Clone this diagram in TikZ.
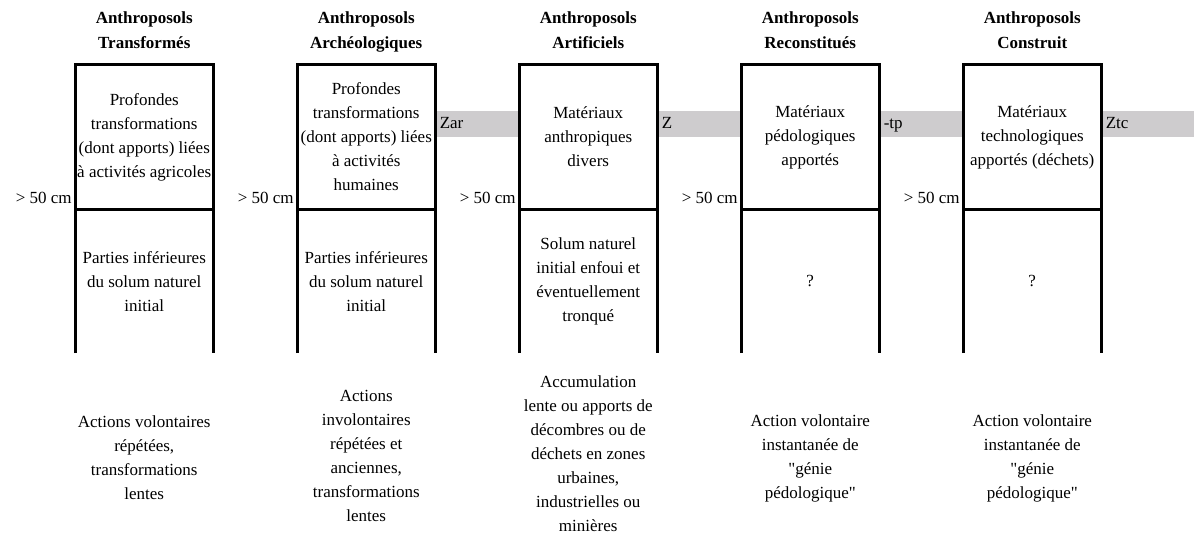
\documentclass[tikz,border=0pt]{standalone}
\usepackage{fontspec}
\setmainfont{Liberation Serif}
\usepackage{xcolor}
\usepackage{tikz}
\usetikzlibrary{positioning}
\definecolor{bandgray}{RGB}{206,204,206}

\begin{document}
\begin{tikzpicture}[x=0.5pt, y=-0.5pt,
    font=\fontsize{8.5}{12}\selectfont,
    layer/.style={minimum width=68.75pt, inner sep=0pt, align=center, fill=white},
    upper/.style={layer, minimum height=72pt},
    lower/.style={layer, minimum height=71.5pt},
    wall/.style={line width=1.5pt},
    title/.style={font=\fontsize{8.5}{12.5}\selectfont\bfseries, align=center},
    depth/.style={anchor=base east, inner sep=1.5pt},
    zone/.style={anchor=base west, inner sep=2pt},
    process/.style={align=center}]
    \useasboundingbox (0,0) rectangle (1194,533);

    % Horizon band
    \fill[bandgray] (435,111) rectangle (1194,137);

    % Transformes
    \node[title] (head1) at (144.25,31) {Anthroposols\strut\\Transformés\strut};
    \node[upper] (up1) at (144.25,137) {Profondes\\transformations\\(dont apports) liées\\à activités agricoles};
    \node[lower, below=0pt of up1] (lo1) {Parties inférieures\\du solum naturel\\initial};
    \draw[wall] (lo1.south west) -- (up1.north west) -- (up1.north east) -- (lo1.south east);
    \draw[wall] (up1.south west) -- (up1.south east);
    \node[depth] (d1) at ([yshift=3pt]up1.south west) {> 50 cm};
    \node[process] (act1) at (144.25,458) {Actions volontaires\\répétées,\\transformations\\lentes};

    % Archeologiques
    \node[title] (head2) at (366.25,31) {Anthroposols\strut\\Archéologiques\strut};
    \node[upper] (up2) at (366.25,137) {Profondes\\transformations\\(dont apports) liées\\à activités\\humaines};
    \node[lower, below=0pt of up2] (lo2) {Parties inférieures\\du solum naturel\\initial};
    \draw[wall] (lo2.south west) -- (up2.north west) -- (up2.north east) -- (lo2.south east);
    \draw[wall] (up2.south west) -- (up2.south east);
    \node[depth] (d2) at ([yshift=3pt]up2.south west) {> 50 cm};
    \node[zone] (z2) at (up2.east |- 0,129) {Zar};
    \node[process] (act2) at (366.25,456) {Actions\\involontaires\\répétées et\\anciennes,\\transformations\\lentes};

    % Artificiels
    \node[title] (head3) at (588.25,31) {Anthroposols\strut\\Artificiels\strut};
    \node[upper] (up3) at (588.25,137) {Matériaux\\anthropiques\\divers};
    \node[lower, below=0pt of up3] (lo3) {Solum naturel\\initial enfoui et\\éventuellement\\tronqué};
    \draw[wall] (lo3.south west) -- (up3.north west) -- (up3.north east) -- (lo3.south east);
    \draw[wall] (up3.south west) -- (up3.south east);
    \node[depth] (d3) at ([yshift=3pt]up3.south west) {> 50 cm};
    \node[zone] (z3) at (up3.east |- 0,129) {Z};
    \node[process] (act3) at (588.25,454) {Accumulation\\lente ou apports de\\décombres ou de\\déchets en zones\\urbaines,\\industrielles ou\\minières};

    % Reconstitues
    \node[title] (head4) at (810.25,31) {Anthroposols\strut\\Reconstitués\strut};
    \node[upper] (up4) at (810.25,137) {Matériaux\\pédologiques\\apportés};
    \node[lower, below=0pt of up4] (lo4) {?};
    \draw[wall] (lo4.south west) -- (up4.north west) -- (up4.north east) -- (lo4.south east);
    \draw[wall] (up4.south west) -- (up4.south east);
    \node[depth] (d4) at ([yshift=3pt]up4.south west) {> 50 cm};
    \node[zone] (z4) at (up4.east |- 0,129) {-tp};
    \node[process] (act4) at (810.25,458) {Action volontaire\\instantanée de\\\textquotedbl génie\\pédologique\textquotedbl};

    % Construit
    \node[title] (head5) at (1032.25,31) {Anthroposols\strut\\Construit\strut};
    \node[upper] (up5) at (1032.25,137) {Matériaux\\technologiques\\apportés (déchets)};
    \node[lower, below=0pt of up5] (lo5) {?};
    \draw[wall] (lo5.south west) -- (up5.north west) -- (up5.north east) -- (lo5.south east);
    \draw[wall] (up5.south west) -- (up5.south east);
    \node[depth] (d5) at ([yshift=3pt]up5.south west) {> 50 cm};
    \node[zone] (z5) at (up5.east |- 0,129) {Ztc};
    \node[process] (act5) at (1032.25,458) {Action volontaire\\instantanée de\\\textquotedbl génie\\pédologique\textquotedbl};
\end{tikzpicture}
\end{document}
